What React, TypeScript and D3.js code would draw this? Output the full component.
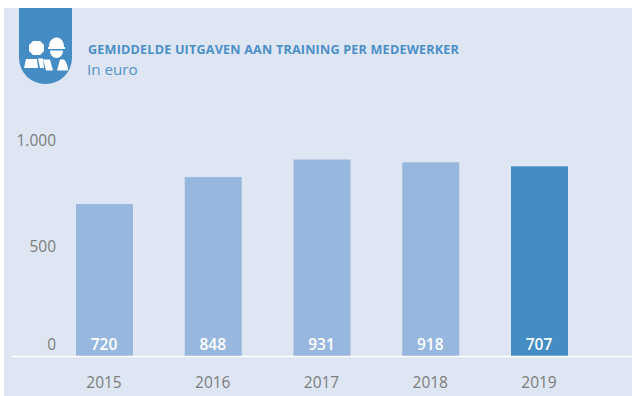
import React from "react";
import * as d3 from "d3";

const years = ["2015", "2016", "2017", "2018", "2019"];
const barHeights = [720, 848, 931, 918, 899];
const barLabels = ["720", "848", "931", "918", "707"];
const tickValues = [0, 500, 1000];
const tickLabels = ["0", "500", "1.000"];
const title = "GEMIDDELDE UITGAVEN AAN TRAINING PER MEDEWERKER";
const subtitle = "In euro";

const FONT = "'Open Sans', 'Noto Sans', sans-serif";

export default function App() {
  const x = d3.scaleBand<string>().domain(years).range([49.9, 594.1]).paddingInner(0.476).paddingOuter(0.24);
  const y = d3.scaleLinear().domain([0, 1000]).range([356, 145]);
  const yTick = d3.scaleLinear().domain([0, 500, 1000]).range([344, 246, 140]);
  const bw = x.bandwidth();
  return (
    <svg width={632} height={396} viewBox="0 0 632 396" style={{ position: "absolute", left: 0, top: 0, display: "block" }} fontFamily={FONT}>
      <rect x={0} y={0} width={632} height={396} fill="#ffffff" />
      <rect x={4} y={8} width={628} height={388} fill="#dfe6f3" />
      <path d="M19 8H72V58A26.5 26 0 0 1 19 58Z" fill="#448cc4" />
      <g fill="#ffffff">
        <path d="M33 41H40L44 45V51L40 55H33L29 51V45Z" />
        <path d="M26 59H37L38 68H24Z" />
        <path d="M38 58.5H43L44 68H40Z" />
        <path d="M43 59.5H50L53 70.5H46Z" />
        <path d="M49 47C49 41 52 38 56.5 37.5C61 38 64 41 64 47H65V49H48V47Z" />
        <path d="M50 50.5H63C63 55 60 58 56.5 58C53 58 50 55 50 50.5Z" />
        <path d="M57 70.5L60 59.5H64C66.5 62 68 66 68 70.5Z" />
      </g>
      <text x={88} y={54} fontSize={12.6} letterSpacing={0.2} fontWeight={700} fill="#4b8fc8">{title}</text>
      <text x={87} y={75} fontSize={15.2} fill="#4f94cc">{subtitle}</text>
      {tickValues.map((v, i) => (
        <text key={v} x={56} y={yTick(v)} dy="0.36em" textAnchor="end" fontSize={15.5} fill="#7c7c7c">{tickLabels[i]}</text>
      ))}
      {years.map((yr, i) => {
        const bx = x(yr)!;
        return (
          <g key={yr}>
            <rect x={bx} y={y(barHeights[i])} width={bw} height={356 - y(barHeights[i])} fill={i === 4 ? "#448cc4" : "#97b7de"} />
            <text x={bx + bw / 2 - 0.5} y={344} dy="0.36em" textAnchor="middle" fontSize={15.5} fontWeight={600} fill="#ffffff">{barLabels[i]}</text>
            <text x={bx + bw / 2 - 0.5} y={382} dy="0.36em" textAnchor="middle" fontSize={15.5} fill="#7c7c7c">{yr}</text>
          </g>
        );
      })}
      <line x1={12} x2={632} y1={356.5} y2={356.5} stroke="#ffffff" strokeWidth={1.5} />
    </svg>
  );
}
